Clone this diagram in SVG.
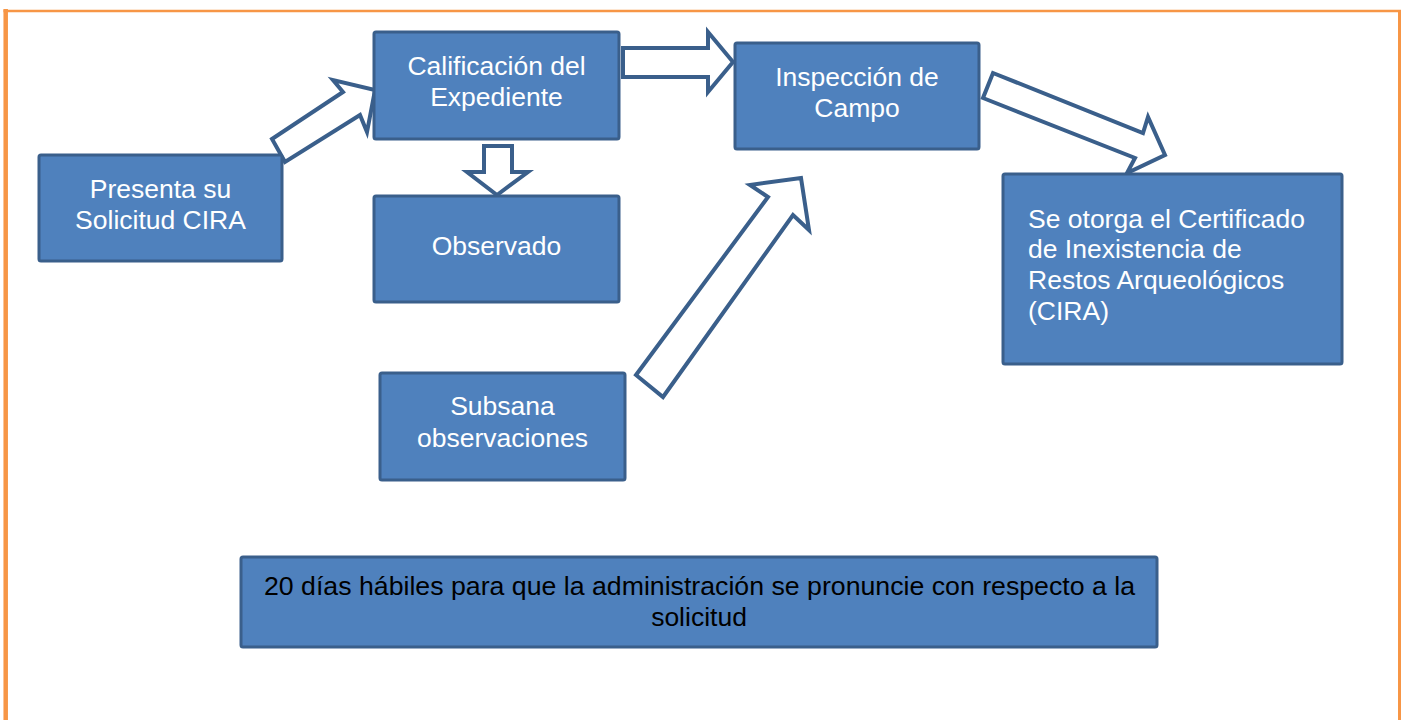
<svg xmlns="http://www.w3.org/2000/svg" width="1401" height="720" viewBox="0 0 1401 720">
<style>
.box{fill:#4F81BD;stroke:#3A5F8B;stroke-width:3}
.arrow{fill:#FFFFFF;stroke:#3A5F8B;stroke-width:4;stroke-linejoin:miter}
.t{font-family:"Liberation Sans",Arial,sans-serif;font-size:26.5px;fill:#FFFFFF}
.c{text-anchor:middle}
.dark{fill:#000000}
</style>
<rect width="1401" height="720" fill="#FFFFFF"/>
<g id="frame" fill="none" stroke="#F79646">
<line x1="5.7" y1="9" x2="5.7" y2="720" stroke-width="4.5"/>
<line x1="3.5" y1="11" x2="1401" y2="11" stroke-width="2.6"/>
<line x1="1399.5" y1="10" x2="1399.5" y2="720" stroke-width="3"/>
</g>
<g id="connectors">
<polygon class="arrow" points="272,139 343,92 333,80 375,90 367,132 360,115 285,162"/>
<polygon class="arrow" points="623,48 708,48 708,32 733,62 708,92 708,77 623,77"/>
<polygon class="arrow" points="484,146 512,146 512,172 528,172 497,195 467,172 484,172"/>
<polygon class="arrow" points="993,73 1143,133 1148,117 1165,155 1127,173 1135,158 983,98"/>
<polygon class="arrow" points="636,375 768,197 750,185 801,178 809,230 793,215 663,397"/>
</g>
<g id="presenta">
<rect class="box" x="39" y="155" width="243" height="106" rx="2"/>
<text class="t c" x="160.5" y="198">Presenta su</text>
<text class="t c" x="160.5" y="229">Solicitud CIRA</text>
</g>
<g id="calificacion">
<rect class="box" x="374" y="32" width="245" height="107" rx="2"/>
<text class="t c" x="496.5" y="75">Calificación del</text>
<text class="t c" x="496.5" y="106">Expediente</text>
</g>
<g id="observado">
<rect class="box" x="374" y="196" width="245" height="106" rx="2"/>
<text class="t c" x="496.5" y="255">Observado</text>
</g>
<g id="inspeccion">
<rect class="box" x="735" y="43" width="244" height="106" rx="2"/>
<text class="t c" x="857" y="86">Inspección de</text>
<text class="t c" x="857" y="117">Campo</text>
</g>
<g id="subsana">
<rect class="box" x="380" y="373" width="245" height="107" rx="2"/>
<text class="t c" x="502.5" y="415">Subsana</text>
<text class="t c" x="502.5" y="447">observaciones</text>
</g>
<g id="certificado">
<rect class="box" x="1003" y="174" width="339" height="190" rx="2"/>
<text class="t" x="1028" y="228">Se otorga el Certificado</text>
<text class="t" x="1028" y="258">de Inexistencia de</text>
<text class="t" x="1028" y="289">Restos Arqueológicos</text>
<text class="t" x="1028" y="320">(CIRA)</text>
</g>
<g id="plazo">
<rect class="box" x="241" y="557" width="916" height="90" rx="2"/>
<text class="t c dark" x="699.5" y="595" textLength="871" lengthAdjust="spacingAndGlyphs">20 días hábiles para que la administración se pronuncie con respecto a la</text>
<text class="t c dark" x="699" y="626">solicitud</text>
</g>
</svg>
